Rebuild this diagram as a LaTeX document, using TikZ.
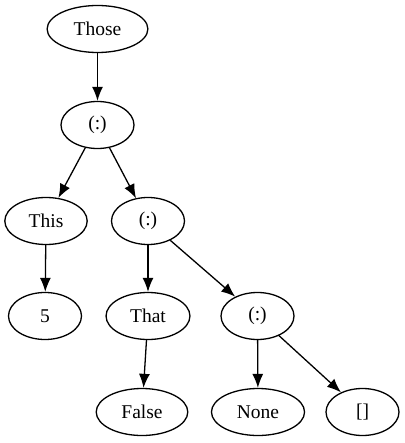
\documentclass[tikz,border=0pt]{standalone}
\usepackage{fontspec}
\setmainfont{Liberation Serif}
\usetikzlibrary{shapes.geometric,arrows.meta}
\begin{document}
\begin{tikzpicture}[x=1pt, y=-1pt,
    treenode/.style={ellipse, draw, line width=1.3pt, minimum width=73pt,
      minimum height=47pt, inner xsep=11.8pt, inner ysep=0pt,
      font=\fontsize{19.5}{21}\selectfont},
    edge/.style={line width=1.3pt, -{Latex[length=14pt, width=11pt]}}]
      \useasboundingbox (0,0) rectangle (404,443);

      % Nodes
      \node[treenode] (those) at (97.5,29) {Those};
      \node[treenode] (consa) at (97.5,125) {(:)};
      \node[treenode] (this) at (46,221) {This};
      \node[treenode] (consb) at (148,221) {(:)};
      \node[treenode] (five) at (45,316) {5};
      \node[treenode] (that) at (148,316) {That};
      \node[treenode] (consc) at (257.5,316) {(:)};
      \node[treenode] (false) at (142,412) {False};
      \node[treenode] (none) at (258,412) {None};
      \node[treenode] (nil) at (362.5,412) {[]};

      % Edges
      \draw[edge] (those) -- (consa);
      \draw[edge] (consa) -- (this);
      \draw[edge] (consa) -- (consb);
      \draw[edge] (this) -- (five);
      \draw[edge] (consb) -- (that);
      \draw[edge] (consb) -- (consc);
      \draw[edge] (that) -- (false);
      \draw[edge] (consc) -- (none);
      \draw[edge] (consc) -- (nil);
\end{tikzpicture}
\end{document}
